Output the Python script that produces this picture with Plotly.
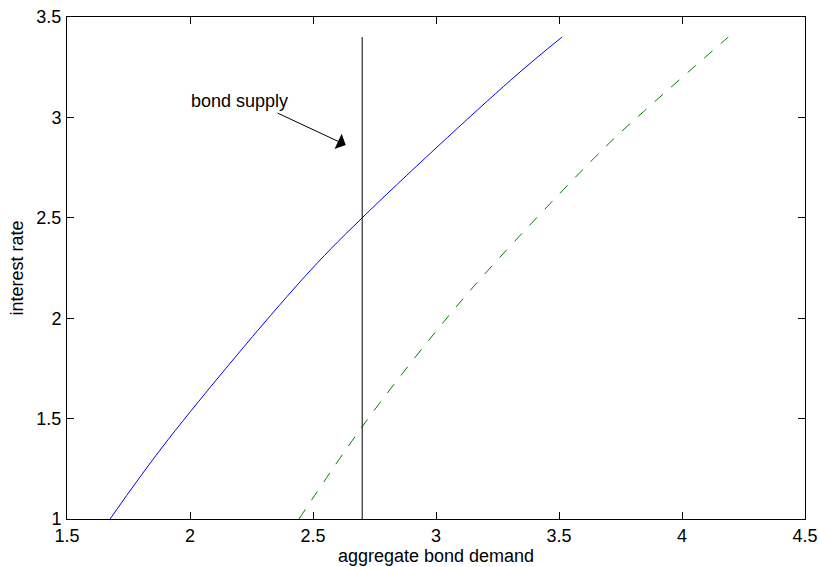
import plotly.graph_objects as go

# Blue demand curve (solid)
demand1_x = [1.675, 1.912, 2.454, 2.70, 3.304, 3.512]
demand1_y = [1.00, 1.397, 2.190, 2.50, 3.186, 3.40]

# Green demand curve (dashed)
demand2_x = [2.443, 2.70, 2.999, 3.209, 3.676, 3.843, 4.188]
demand2_y = [1.00, 1.46, 1.933, 2.235, 2.838, 3.028, 3.40]

# Bond supply (vertical)
supply_x = [2.7, 2.7]
supply_y = [1.0, 3.4]

x_ticks = [1.5, 2, 2.5, 3, 3.5, 4, 4.5]
y_ticks = [1, 1.5, 2, 2.5, 3, 3.5]
x_ticklabels = ["1.5", "2", "2.5", "3", "3.5", "4", "4.5"]
y_ticklabels = ["1", "1.5", "2", "2.5", "3", "3.5"]

label_text = "bond supply"
label_pos = (1.995, 3.083)
arrow_tail = (2.35, 3.025)
arrow_head = (2.633, 2.863)

FONT = "Liberation Sans, Arial, sans-serif"
FS = 18

fig = go.Figure()
fig.add_trace(go.Scatter(x=demand1_x, y=demand1_y, mode="lines",
                         line=dict(color="#0000ff", width=1), line_shape="spline",
                         line_smoothing=1.0,
                         showlegend=False, hoverinfo="skip"))
fig.add_trace(go.Scatter(x=demand2_x, y=demand2_y, mode="lines",
                         line=dict(color="#008000", width=1, dash="11px,11px"),
                         line_shape="spline", line_smoothing=1.0,
                         showlegend=False, hoverinfo="skip"))
fig.add_trace(go.Scatter(x=supply_x, y=supply_y, mode="lines",
                         line=dict(color="#000000", width=1),
                         showlegend=False, hoverinfo="skip"))

fig.add_annotation(x=label_pos[0], y=label_pos[1], text=label_text, showarrow=False,
                   xanchor="left", yanchor="middle",
                   font=dict(family=FONT, size=FS, color="black"))
fig.add_annotation(x=arrow_head[0], y=arrow_head[1], ax=arrow_tail[0], ay=arrow_tail[1],
                   xref="x", yref="y", axref="x", ayref="y", text="",
                   showarrow=True, arrowhead=1, arrowsize=2.8, arrowwidth=1,
                   arrowcolor="black", standoff=0)

axis_common = dict(showline=True, linecolor="black", linewidth=1, mirror="ticks",
                   ticks="inside", ticklen=7, tickcolor="black", tickwidth=1,
                   showgrid=False, zeroline=False, automargin=False,
                   tickfont=dict(family=FONT, size=FS, color="black"))

fig.update_xaxes(range=[1.5, 4.5], tickvals=x_ticks, ticktext=x_ticklabels,
                 title=dict(text="aggregate bond demand", standoff=2,
                            font=dict(family=FONT, size=FS, color="black")),
                 **axis_common)
fig.update_yaxes(range=[1, 3.5], tickvals=y_ticks, ticktext=y_ticklabels,
                 ticklabelstandoff=1,
                 title=dict(text="interest rate", standoff=8,
                            font=dict(family=FONT, size=FS, color="black")),
                 **axis_common)

fig.update_layout(width=820, height=567, margin=dict(l=67, r=15, t=17, b=48),
                  plot_bgcolor="white", paper_bgcolor="white",
                  font=dict(family=FONT, size=FS, color="black"))

fig.write_html("out.html")
